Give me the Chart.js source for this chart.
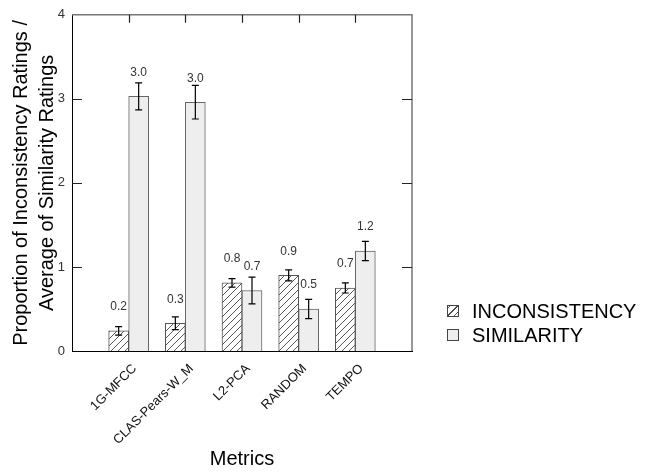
<!DOCTYPE html>
<html>
<head>
<meta charset="utf-8">
<script src="https://cdn.jsdelivr.net/npm/chart.js@4.4.1/dist/chart.umd.min.js"></script>
<style>
  html, body { margin: 0; padding: 0; background: #fff; }
  #wrap { width: 647px; height: 473px; }
</style>
</head>
<body>
<div id="wrap"><canvas id="c" width="647" height="473"></canvas></div>
<script>
// ---- data ----
const categories = ['1G-MFCC', 'CLAS-Pears-W_M', 'L2-PCA', 'RANDOM', 'TEMPO'];
const inconsistency = [0.24, 0.33, 0.81, 0.90, 0.75];
const inconsistencyErr = [0.05, 0.075, 0.05, 0.065, 0.06];
const inconsistencyLabels = ['0.2', '0.3', '0.8', '0.9', '0.7'];
const similarity = [3.03, 2.96, 0.72, 0.50, 1.19];
const similarityErr = [0.16, 0.20, 0.16, 0.115, 0.115];
const similarityLabels = ['3.0', '3.0', '0.7', '0.5', '1.2'];
const yTicks = [0, 1, 2, 3, 4];
const seriesNames = ['INCONSISTENCY', 'SIMILARITY'];

// pad categories with empty slots at each end so bars sit at 1..5 on a 0..6 axis
const xLabels = [''].concat(categories, ['']);
const pad = arr => [null].concat(arr, [null]);

// hatch pattern
function makeHatch() {
  const s = 7;
  const pc = document.createElement('canvas');
  pc.width = s; pc.height = s;
  const g = pc.getContext('2d');
  g.fillStyle = '#ffffff';
  g.fillRect(0, 0, s, s);
  g.strokeStyle = '#444';
  g.lineWidth = 0.9;
  g.beginPath();
  g.moveTo(-1, s + 1); g.lineTo(s + 1, -1);
  g.moveTo(-1, 1); g.lineTo(1, -1);
  g.moveTo(s - 1, s + 1); g.lineTo(s + 1, s - 1);
  g.stroke();
  return document.getElementById('c').getContext('2d').createPattern(pc, 'repeat');
}
const hatch = makeHatch();

const errs = [inconsistencyErr, similarityErr];
const valueLabels = [inconsistencyLabels, similarityLabels];

const decorPlugin = {
  id: 'decor',
  afterDatasetsDraw(chart) {
    const ctx = chart.ctx;
    const ys = chart.scales.y, xs = chart.scales.x;
    const a = chart.chartArea;
    ctx.save();
    // error bars and value labels
    chart.data.datasets.forEach((ds, di) => {
      const meta = chart.getDatasetMeta(di);
      meta.data.forEach((bar, i) => {
        const v = ds.data[i];
        if (v === null || v === undefined) return;
        const e = errs[di][i - 1];
        const x = bar.x;
        const yTop = ys.getPixelForValue(v + e);
        const yBot = ys.getPixelForValue(v - e);
        ctx.strokeStyle = '#000';
        ctx.lineWidth = 1.2;
        ctx.beginPath();
        ctx.moveTo(x, yTop); ctx.lineTo(x, yBot);
        ctx.moveTo(x - 3.5, yTop); ctx.lineTo(x + 3.5, yTop);
        ctx.moveTo(x - 3.5, yBot); ctx.lineTo(x + 3.5, yBot);
        ctx.stroke();
        ctx.fillStyle = '#333';
        ctx.font = '12px "Liberation Sans", Arial, sans-serif';
        ctx.textAlign = 'center';
        ctx.textBaseline = 'middle';
        ctx.fillText(valueLabels[di][i - 1], x, ys.getPixelForValue(v) - 24);
      });
    });
    // frame top/right
    ctx.strokeStyle = '#777';
    ctx.lineWidth = 1.5;
    ctx.beginPath();
    ctx.moveTo(a.left, a.top); ctx.lineTo(a.right, a.top); ctx.lineTo(a.right, a.bottom);
    ctx.stroke();
    // inward ticks
    ctx.strokeStyle = '#222';
    ctx.lineWidth = 1.2;
    ctx.beginPath();
    yTicks.forEach(t => {
      if (t === 0 || t === 4) return;
      const py = Math.round(ys.getPixelForValue(t)) + 0.5;
      ctx.moveTo(a.left, py); ctx.lineTo(a.left + 10, py);
      ctx.moveTo(a.right, py); ctx.lineTo(a.right - 10, py);
    });
    categories.forEach((c, i) => {
      const px = Math.round(xs.getPixelForValue(i + 1)) + 0.5;
      ctx.moveTo(px, a.top); ctx.lineTo(px, a.top + 8);
    });
    ctx.stroke();
    // legend
    const lx = 447, ly = [305, 329];
    ctx.font = '20px "Liberation Sans", Arial, sans-serif';
    ctx.textAlign = 'left';
    ctx.textBaseline = 'middle';
    seriesNames.forEach((n, k) => {
      ctx.fillStyle = k === 0 ? hatch : '#eeeeee';
      ctx.fillRect(lx, ly[k], 12, 12);
      ctx.strokeStyle = '#444';
      ctx.lineWidth = 1;
      ctx.strokeRect(lx + 0.5, ly[k] + 0.5, 11, 11);
      if (k === 0) {
        ctx.beginPath();
        ctx.moveTo(lx + 1, ly[k] + 11); ctx.lineTo(lx + 11, ly[k] + 1);
        ctx.stroke();
      }
      ctx.fillStyle = '#000';
      ctx.fillText(n, 472, ly[k] + 7);
    });
    ctx.restore();
  }
};

new Chart(document.getElementById('c'), {
  type: 'bar',
  data: {
    labels: xLabels,
    datasets: [
      {
        label: seriesNames[0],
        data: pad(inconsistency),
        backgroundColor: hatch,
        borderColor: '#555',
        borderWidth: 1,
        barThickness: 20
      },
      {
        label: seriesNames[1],
        data: pad(similarity),
        backgroundColor: '#eeeeee',
        borderColor: '#666',
        borderWidth: 1,
        barThickness: 20
      }
    ]
  },
  options: {
    responsive: false,
    devicePixelRatio: 1,
    animation: false,
    layout: { padding: { top: 11, right: 235, left: 0, bottom: 0 } },
    plugins: { legend: { display: false }, tooltip: { enabled: false } },
    scales: {
      x: {
        offset: false,
        grid: { display: false, drawTicks: false },
        border: { display: true, color: '#000', width: 1 },
        ticks: {
          autoSkip: false, minRotation: 45, maxRotation: 45,
          padding: 10, labelOffset: 6,
          color: '#111',
          font: { family: '"Liberation Sans", Arial, sans-serif', size: 13 }
        },
        title: {
          display: true, text: 'Metrics', color: '#000',
          font: { family: '"Liberation Sans", Arial, sans-serif', size: 20 },
          padding: { top: 0, bottom: 2 }
        },
        afterFit(s) { s.height = 122; }
      },
      y: {
        min: 0, max: 4,
        afterBuildTicks(s) { s.ticks = yTicks.map(v => ({ value: v })); },
        grid: { display: false, drawTicks: false },
        border: { display: true, color: '#000', width: 1 },
        ticks: {
          padding: 7, color: '#333',
          font: { family: '"Liberation Sans", Arial, sans-serif', size: 13 },
          callback: v => String(v)
        },
        title: {
          display: true,
          text: ['Proportion of Inconsistency Ratings /', 'Average of Similarity Ratings'],
          color: '#000',
          font: { family: '"Liberation Sans", Arial, sans-serif', size: 20, lineHeight: 1.3 },
          padding: { top: 8, bottom: 0 }
        },
        afterFit(s) { s.width = 72; }
      }
    }
  },
  plugins: [decorPlugin]
});
</script>
</body>
</html>
